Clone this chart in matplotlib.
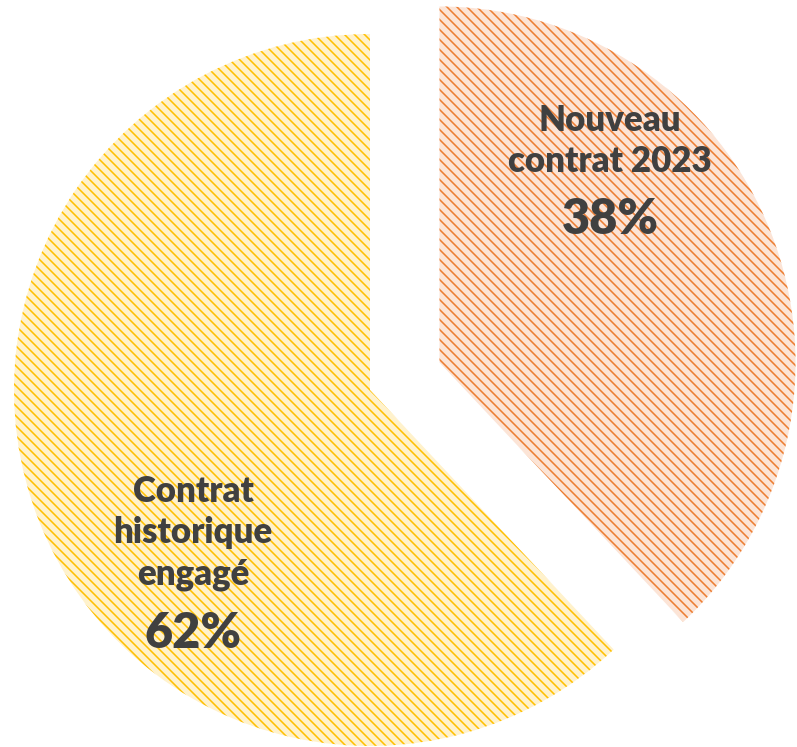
import matplotlib
matplotlib.use("Agg")
import matplotlib.pyplot as plt

# Share of contracts
categories = ["Nouveau\ncontrat 2023", "Contrat\nhistorique\nengagé"]
shares = [38, 62]
pct_labels = ["38%", "62%"]

face_colors = ["#FCE4D6", "#FFF2CC"]
hatch_colors = ["#ED7D31", "#FFC000"]

W, H = 797, 747
DPI = 90
plt.rcParams["hatch.linewidth"] = 1.25
plt.rcParams["font.family"] = ["Lato", "DejaVu Sans"]

fig = plt.figure(figsize=(W / DPI, H / DPI), dpi=DPI)
ax = fig.add_axes([0, 0, 1, 1])

radius = 356
center = (370, H - 390)
wedges, _ = ax.pie(
    shares,
    radius=radius,
    center=center,
    startangle=90,
    counterclock=False,
    explode=[0.21 * radius, 0.0],
    colors=face_colors,
    wedgeprops=dict(linewidth=0),
    frame=True,
)
for w, hc in zip(wedges, hatch_colors):
    w.set_edgecolor(hc)
    w.set_linewidth(0)
    w.set_hatch("\\\\\\")

ax.set_xlim(0, W)
ax.set_ylim(0, H)
ax.set_aspect("equal")
ax.axis("off")

text_color = "#404040"
scale = 100 / DPI
# label anchor positions (pixel coordinates of the label block centres)
label_pos = [(610, 141), (193, 533)]
pct_pos = [(610, 220), (193, 634)]
for cat, pct, (lx, ly), (px, py) in zip(categories, pct_labels, label_pos, pct_pos):
    ax.text(lx, H - ly, cat, ha="center", va="center", fontsize=25 * scale,
            fontweight="heavy", color=text_color, linespacing=1.32)
    ax.text(px, H - py, pct, ha="center", va="center", fontsize=35 * scale,
            fontweight="heavy", color=text_color)

fig.savefig("out.png", dpi=DPI)
